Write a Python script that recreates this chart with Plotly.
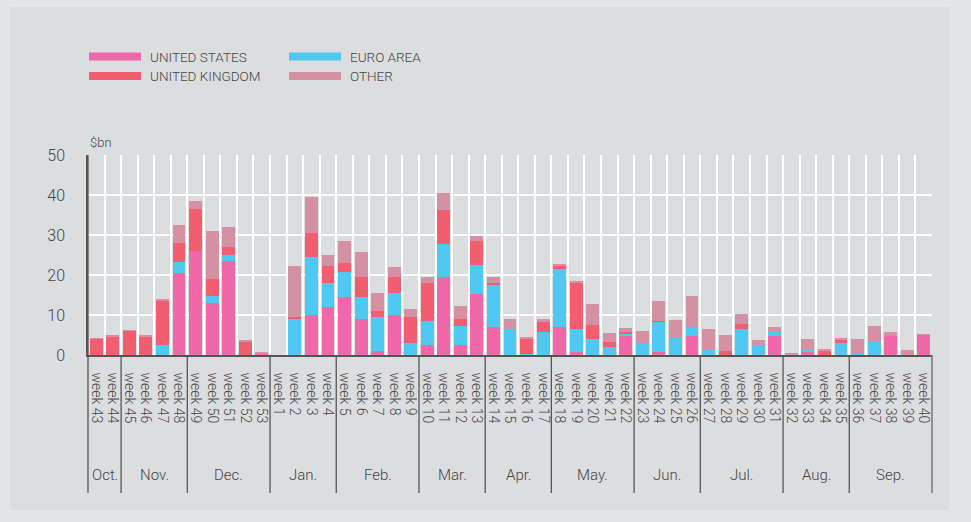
import plotly.graph_objects as go

weeks = ["week 43", "week 44", "week 45", "week 46", "week 47", "week 48", "week 49", "week 50",
         "week 51", "week 52", "week 53"] + [f"week {i}" for i in range(1, 41)]

months = ["Oct.", "Nov.", "Dec.", "Jan.", "Feb.", "Mar.", "Apr.", "May.", "Jun.", "Jul.", "Aug.", "Sep."]
month_sizes = [2, 4, 5, 4, 5, 4, 4, 5, 4, 5, 4, 5]

us = [0, 0, 0, 0, 0, 20.5, 26.0, 13.0, 23.4, 0, 0.4,
      0, 0, 9.9, 12.0, 14.5, 9.1, 0.9, 9.9, 0, 2.6, 19.6, 2.4, 15.2, 6.9, 0, 0, 0, 6.9, 0.8,
      0, 0, 4.8, 0, 0.8, 0, 4.8, 0, 0, 0, 0, 4.8, 0, 0.8, 0, 0, 0, 0, 4.8, 0, 5.0]
euro = [0, 0, 0, 0, 2.6, 2.7, 0, 1.7, 1.6, 0, 0,
        0, 9.0, 14.5, 5.9, 6.3, 5.5, 8.7, 5.5, 3.1, 5.9, 8.1, 4.9, 7.3, 10.6, 6.4, 0.3, 5.7, 14.6, 5.7,
        4.1, 1.9, 0.4, 3.1, 7.5, 4.3, 2.1, 1.3, 0, 6.4, 2.6, 0.9, 0.2, 0.5, 0, 3.1, 0.4, 3.3, 0, 0, 0]
uk = [4.0, 4.6, 6.1, 4.7, 11.0, 4.7, 10.6, 4.2, 2.1, 3.4, 0,
      0, 0.5, 6.2, 4.3, 2.3, 5.0, 1.5, 4.2, 6.3, 9.5, 8.5, 1.6, 6.1, 0.4, 0, 3.7, 2.6, 0.7, 11.7,
      3.3, 1.4, 0.6, 0, 0.2, 0, 0, 0, 1.0, 1.3, 0, 0, 0, 0, 1.1, 0.8, 0, 0, 0, 0, 0]
other = [0.2, 0.2, 0.1, 0.3, 0.3, 4.6, 1.9, 12.0, 4.8, 0.4, 0.2,
         0, 12.8, 8.9, 2.9, 5.5, 6.1, 4.4, 2.3, 2.1, 1.5, 4.4, 3.3, 1.2, 1.5, 2.6, 0.5, 0.7, 0.5, 0.2,
         5.3, 2.1, 1.0, 2.8, 5.0, 4.5, 7.9, 5.3, 4.0, 2.5, 1.1, 1.3, 0.1, 2.6, 0.2, 0.2, 3.7, 4.0, 0.9, 1.2, 0.1]

series_names = ["UNITED STATES", "EURO AREA", "UNITED KINGDOM", "OTHER"]
colors = {"UNITED STATES": "#f068a7", "EURO AREA": "#4fc9f2",
          "UNITED KINGDOM": "#f25e70", "OTHER": "#d591a4"}
values = {"UNITED STATES": us, "EURO AREA": euro, "UNITED KINGDOM": uk, "OTHER": other}

n = len(weeks)
xs = list(range(n))
FONT = "Roboto, 'Liberation Sans', Arial, sans-serif"
TXT = "#454545"

fig = go.Figure()
for name in series_names:
    fig.add_trace(go.Bar(x=xs, y=values[name], name=name, marker_color=colors[name],
                         marker_line_width=0, showlegend=False))

bounds = []
acc = 0
for s in month_sizes:
    acc += s
    bounds.append(acc - 0.5)
centers = []
start = 0
for s in month_sizes:
    centers.append(start + (s - 1) / 2)
    start += s

shapes = []
shapes.append(dict(type="rect", xref="paper", yref="paper", x0=-0.0925, x1=1.021, y0=-0.775, y1=1.74,
                   fillcolor="#dcdddf", line_width=0, layer="below"))
shapes.append(dict(type="line", xref="paper", yref="paper", x0=0, x1=0, y0=1, y1=-0.69,
                   line=dict(color="#555555", width=1.3)))
shapes.append(dict(type="line", xref="paper", yref="paper", x0=1, x1=1, y0=0, y1=-0.69,
                   line=dict(color="#666666", width=1.3)))
for b in bounds[:-1]:
    shapes.append(dict(type="line", xref="x", yref="paper", x0=b, x1=b, y0=0, y1=-0.69,
                       line=dict(color="#555555", width=1.3)))

annotations = []
for m, c in zip(months, centers):
    annotations.append(dict(x=c, y=-0.6, xref="x", yref="paper", text=m, showarrow=False,
                            font=dict(family=FONT, size=15, color=TXT, weight=300),
                            xanchor="center", yanchor="middle"))
annotations.append(dict(x=0, y=1.065, xref="paper", yref="paper", text="$bn", showarrow=False,
                        font=dict(family=FONT, size=13, color=TXT, weight=300),
                        xanchor="left", yanchor="middle"))

legend_pos = [("UNITED STATES", 89, 56.5), ("UNITED KINGDOM", 89, 76),
              ("EURO AREA", 289, 56.5), ("OTHER", 289, 76)]
for name, px, py in legend_pos:
    x0 = (px - 88) / 844
    x1 = (px + 52 - 88) / 844
    yc = (355 - py) / 200
    shapes.append(dict(type="rect", xref="paper", yref="paper", x0=x0, x1=x1,
                       y0=yc - 0.02, y1=yc + 0.02, fillcolor=colors[name], line_width=0))
    annotations.append(dict(x=(px + 59 - 88) / 844, y=yc, xref="paper", yref="paper", text=name,
                            showarrow=False, xanchor="left", yanchor="middle",
                            font=dict(family=FONT, size=13.5, color=TXT, weight=300)))

fig.update_layout(
    width=971, height=522,
    margin=dict(l=88, r=39, t=155, b=167),
    paper_bgcolor="#e4e5e7", plot_bgcolor="#dcdddf",
    barmode="stack", bargap=0.22,
    shapes=shapes, annotations=annotations,
    xaxis=dict(range=[-0.5, n - 0.5], tickmode="array", tickvals=xs, ticktext=weeks,
               tickangle=90, showgrid=False, ticks="", zeroline=False,
               tickfont=dict(family=FONT, size=14, color=TXT, weight=300), ticklabelstandoff=13,
               minor=dict(tickmode="array", tickvals=[i + 0.5 for i in range(n)], showgrid=True,
                          gridcolor="white", gridwidth=2, ticks=""),
               showline=True, linecolor="#555555", linewidth=1.5),
    yaxis=dict(range=[0, 50], tickvals=[0, 10, 20, 30, 40, 50], showgrid=True, gridcolor="white",
               gridwidth=2, zeroline=False, ticks="", ticklabelstandoff=18,
               tickfont=dict(family=FONT, size=16, color=TXT, weight=300),
               showline=True, linecolor="#555555", linewidth=1.5),
)

fig.write_html("out.html", config={"displayModeBar": False},
               post_script="document.body.style.margin='0';document.body.style.background='#e4e5e7';")
